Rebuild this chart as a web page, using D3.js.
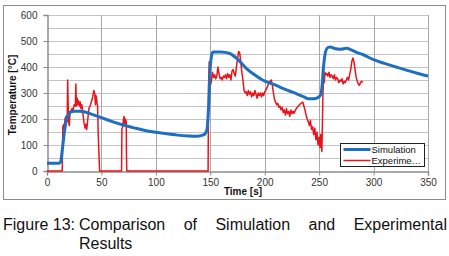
<!DOCTYPE html>
<html>
<head>
<meta charset="utf-8">
<script src="https://cdn.jsdelivr.net/npm/d3@7"></script>
<style>
  body { margin: 0; background: #fff; }
  svg { display: block; font-family: Arial, "Liberation Sans", sans-serif; }
</style>
</head>
<body>
<div id="chart-area"></div>
<script>
// data
var simTime = [0, 11, 12.5, 14, 16, 18, 20, 22, 25, 30, 35, 40, 50, 60, 70, 80, 90, 100, 110, 120, 130, 135, 140, 143, 145, 147, 148.5, 150, 151, 152, 153, 160, 168, 175, 183, 190, 198, 210, 220, 225, 232, 236, 240, 245, 249, 251, 252.5, 254, 256, 258, 260, 265, 270, 275, 280, 285, 290, 300, 310, 320, 330, 340, 350];
var simTemp = [30, 30, 35, 80, 150, 200, 220, 228, 230, 230, 227, 220, 205, 190, 177, 166, 156, 149, 143, 138, 135, 134, 135, 138, 142, 160, 250, 400, 440, 455, 458, 458, 452, 430, 395, 372, 350, 330, 312, 304, 292, 285, 278, 278, 283, 290, 320, 400, 460, 475, 477, 470, 468, 472, 465, 455, 448, 428, 414, 401, 388, 376, 365];

var expTime = [0, 14, 14.5, 15.5, 16, 16.5, 17.5, 18.5, 19, 19.8, 20.5, 21, 22, 23, 24, 25, 26, 26.5, 27, 27.7, 28.3, 29, 29.7, 30.5, 31.2, 32, 33, 34, 35, 35.8, 36.5, 37.5, 38.5, 40, 41, 42, 43, 43.8, 44.5, 45, 45.5, 46, 46.5, 47, 47.8, 48.3,
  68.5, 68.8, 69.5, 70, 70.8, 71.3, 72, 72.8, 73, 73.3,
  148, 148.4, 149, 149.6, 150.2, 151, 152, 153, 154, 155, 156, 157, 158, 159, 160, 161, 162, 163, 164, 165, 166, 167, 168, 169, 170, 171, 172, 173, 174, 175, 176, 177, 178, 179, 180,
  181, 182, 183, 184, 185, 186, 187, 188, 189, 190, 191, 192, 193, 194, 195, 196, 197, 198, 199, 200, 201, 202, 203, 204, 205, 206, 207, 208, 209, 210,
  211, 212, 213, 214, 215, 216, 217, 218, 219, 220, 221, 222, 223, 224, 225, 226, 227, 228, 229, 230, 231, 232, 233, 234, 235, 236, 237, 238, 239, 240,
  241, 242, 243, 244, 245, 246, 247, 248, 249, 250, 250.8, 251.5, 252, 252.5, 253, 253.5, 254, 254.7, 255.3, 256, 257, 258, 259, 260,
  261, 262, 263, 264, 265, 266, 267, 268, 269, 270, 271, 272, 273, 274, 275, 276, 277, 278, 279, 280, 281, 282, 283, 284, 285, 286, 287, 288, 289, 290];
var expTemp = [0, 0, 170, 180, 160, 200, 210, 190, 350, 190, 175, 215, 230, 240, 235, 255, 250, 335, 250, 280, 255, 270, 250, 265, 240, 255, 220, 185, 165, 180, 160, 200, 240, 255, 270, 285, 310, 300, 255, 290, 280, 260, 250, 150, 60, 0,
  0, 160, 170, 190, 210, 180, 200, 190, 60, 0,
  0, 330, 420, 370, 330, 345, 380, 360, 370, 355, 365, 400, 375, 355, 360, 350, 365, 360, 370, 355, 375, 360, 370, 350, 385, 390, 375, 365, 400, 430, 460, 455, 420, 380, 350,
  310, 300, 305, 290, 310, 295, 305, 285, 300, 290, 310, 295, 280, 300, 290, 300, 285, 300, 290, 305, 310, 320, 330, 340, 345, 350, 330, 300, 275, 265,
  255, 260, 245, 250, 235, 245, 225, 235, 215, 240, 220, 230, 210, 235, 220, 230, 222, 232, 240, 245, 250, 255, 260, 262, 265, 250, 235, 215, 200, 190,
  175, 195, 160, 170, 140, 165, 120, 150, 100, 130, 90, 140, 110, 75, 180, 300, 350, 340, 380, 370, 375, 365, 380, 360,
  370, 365, 355, 370, 350, 360, 355, 340, 350, 345, 355, 335, 345, 340, 350, 360, 350, 370, 390, 420, 435, 420, 390, 360, 345, 335, 330, 340, 345, 340];

var xTicks = [0, 50, 100, 150, 200, 250, 300, 350];
var yTicks = [0, 100, 200, 300, 400, 500, 600];
var yGrid = [50, 100, 150, 200, 250, 300, 350, 400, 450, 500, 550, 600];
var seriesNames = ["Simulation", "Experime\u2026"];
var captionWords = ["Comparison", "of", "Simulation", "and", "Experimental"];

var W = 449, H = 256;
var plot = { left: 47, right: 428, top: 15, bottom: 171 };

var svg = d3.select("#chart-area").append("svg")
    .attr("width", W)
    .attr("height", H);

// outer chart frame
svg.append("rect")
    .attr("x", 3.5).attr("y", 5.5)
    .attr("width", 442).attr("height", 194)
    .attr("fill", "#fff")
    .attr("stroke", "#8c8c8c");

var x = d3.scaleLinear().domain([0, 350]).range([plot.left, plot.right]);
var y = d3.scaleLinear().domain([0, 600]).range([plot.bottom, plot.top]);

// grid
svg.append("g").selectAll("line").data(yGrid).enter().append("line")
    .attr("x1", plot.left).attr("x2", plot.right)
    .attr("y1", d => Math.round(y(d)) + 0.5).attr("y2", d => Math.round(y(d)) + 0.5)
    .attr("stroke", "#c4c4c4");
svg.append("g").selectAll("line").data(xTicks.slice(1)).enter().append("line")
    .attr("x1", d => Math.round(x(d)) + 0.5).attr("x2", d => Math.round(x(d)) + 0.5)
    .attr("y1", plot.top).attr("y2", plot.bottom)
    .attr("stroke", "#a8a8a8");

// axes
var xAxis = d3.axisBottom(x).tickValues(xTicks).tickSize(4).tickPadding(3);
var gx = svg.append("g")
    .attr("transform", "translate(0," + (Math.round(plot.bottom) + 0.5) + ")")
    .call(xAxis);
var yAxis = d3.axisLeft(y).tickValues(yTicks).tickSize(4).tickPadding(6);
var gy = svg.append("g")
    .attr("transform", "translate(" + (plot.left + 0.5) + ",0)")
    .call(yAxis);
[gx, gy].forEach(g => {
    g.select(".domain").attr("stroke", "#8c8c8c").attr("stroke-width", 1.5);
    g.selectAll(".tick line").attr("stroke", "#8c8c8c");
    g.selectAll(".tick text").attr("fill", "#333").attr("font-size", "10px")
        .attr("font-family", "Arial, 'Liberation Sans', sans-serif");
});

// axis titles
svg.append("text")
    .attr("x", 243).attr("y", 195)
    .attr("text-anchor", "middle")
    .attr("font-size", "10px").attr("font-weight", "bold")
    .attr("fill", "#111")
    .text("Time [s]");
svg.append("text")
    .attr("transform", "translate(16,95) rotate(-90)")
    .attr("text-anchor", "middle")
    .attr("font-size", "10px").attr("font-weight", "bold")
    .attr("fill", "#111")
    .text("Temperature [\u00b0C]");

// lines
var line = d3.line().x(d => x(d[0])).y(d => y(d[1]));
var expData = expTime.map((t, i) => [t, expTemp[i]]);
var simData = simTime.map((t, i) => [t, simTemp[i]]);

svg.append("path")
    .datum(expData)
    .attr("fill", "none")
    .attr("stroke", "#e8141c")
    .attr("stroke-width", 1.5)
    .attr("stroke-linejoin", "round")
    .attr("d", line);
svg.append("path")
    .datum(simData)
    .attr("fill", "none")
    .attr("stroke", "#1f6fc1")
    .attr("stroke-width", 3)
    .attr("stroke-linejoin", "round")
    .attr("d", line.curve(d3.curveMonotoneX));

// legend
var legend = svg.append("g").attr("transform", "translate(340.5,143.5)");
legend.append("rect")
    .attr("width", 84).attr("height", 23)
    .attr("fill", "#fff").attr("stroke", "#222");
var legendColors = ["#1f6fc1", "#e8141c"];
var legendWidths = [3, 1.5];
seriesNames.forEach((name, i) => {
    var row = legend.append("g").attr("transform", "translate(0," + (6 + i * 11) + ")");
    row.append("line")
        .attr("x1", 3).attr("x2", 30)
        .attr("y1", 0).attr("y2", 0)
        .attr("stroke", legendColors[i])
        .attr("stroke-width", legendWidths[i]);
    row.append("text")
        .attr("x", 31).attr("y", 3.5)
        .attr("font-size", "9.5px")
        .attr("fill", "#111")
        .text(name);
});

// caption
var capFont = "16px";
svg.append("text")
    .attr("x", 3).attr("y", 230)
    .attr("font-size", capFont).attr("fill", "#111")
    .text("Figure 13:");
var words = captionWords.map(w => svg.append("text")
    .attr("y", 230)
    .attr("font-size", capFont).attr("fill", "#111")
    .text(w));
var lens = words.map(w => w.node().getComputedTextLength());
var startX = 79, endX = 447;
var gap = (endX - startX - d3.sum(lens)) / (words.length - 1);
var cx = startX;
words.forEach((w, i) => {
    w.attr("x", cx);
    cx += lens[i] + gap;
});
svg.append("text")
    .attr("x", 79).attr("y", 249)
    .attr("font-size", capFont).attr("fill", "#111")
    .text("Results");
</script>
</body>
</html>
